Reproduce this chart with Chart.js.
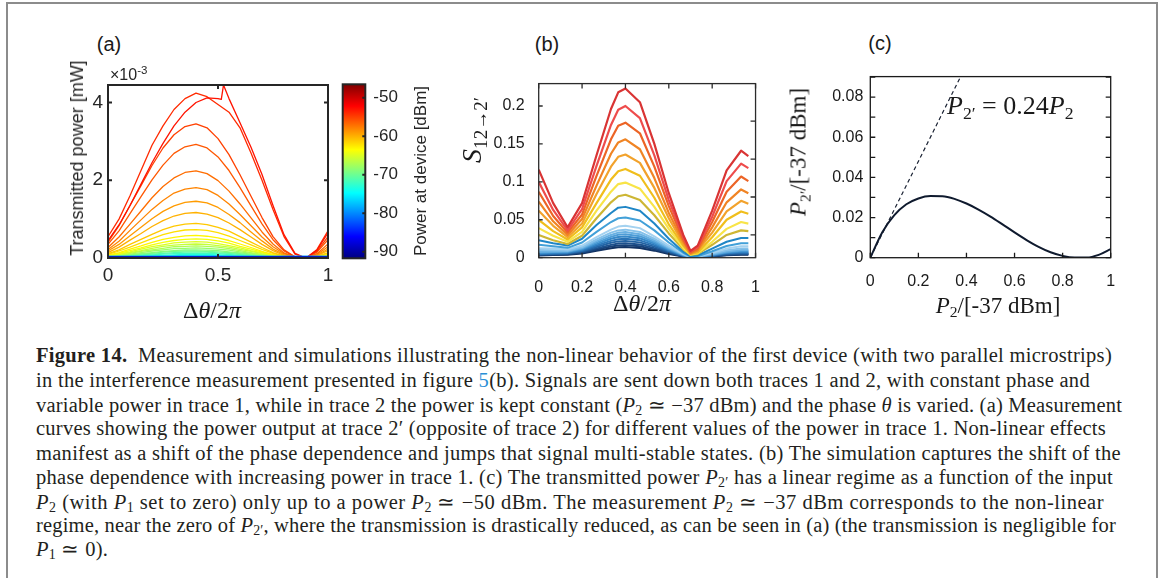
<!DOCTYPE html>
<html>
<head>
<meta charset="utf-8">
<script src="https://cdn.jsdelivr.net/npm/chart.js@4.4.1/dist/chart.umd.min.js"></script>
<style>
  html, body { margin: 0; padding: 0; background: #fff; }
  #page { position: relative; width: 1163px; height: 578px; overflow: hidden; background: #fff; }
  #frame { position: absolute; left: 6px; top: 2px; width: 1148px; height: 620px; border: 2px solid #8c8c8c; border-bottom: none; }
  .panel { position: absolute; }
  .panel canvas { display: block; }
  .lbl { position: absolute; white-space: nowrap; color: #1a1a1a; line-height: 1; transform: translate(-50%, -50%); z-index: 2; }
  .rot { transform: translate(-50%, -50%) rotate(-90deg); }
  .sans { font-family: 'Liberation Sans', Arial, sans-serif; }
  .math { font-family: 'Liberation Serif', 'Times New Roman', serif; }
  .lbl sub { font-size: 0.68em; vertical-align: -0.3em; line-height: 0; }
  .lbl sup { font-size: 0.72em; vertical-align: 0.5em; line-height: 0; }
  .lbl .big sub { font-size: 0.72em; }
  .cap { position: absolute; left: 36px; white-space: nowrap; font-family: 'Liberation Serif', 'Times New Roman', serif;
         font-size: 20.5px; color: #231f20; line-height: 1; transform: translateY(-50%); }
  .cap sub { font-size: 0.68em; vertical-align: -0.25em; line-height: 0; }
  .cap .ref { color: #2a8fd6; }
</style>
</head>
<body>
<div id="page">
  <div id="frame"></div>

  <div class="panel" style="left:40px;top:60px"><canvas id="chartA" width="310" height="250"></canvas></div>
  <div class="panel" style="left:330px;top:60px"><canvas id="chartBar" width="120" height="220"></canvas></div>
  <div class="panel" style="left:460px;top:60px"><canvas id="chartB" width="320" height="260"></canvas></div>
  <div class="panel" style="left:790px;top:60px"><canvas id="chartC" width="360" height="260"></canvas></div>

  <!-- panel (a) -->
  <div class="lbl sans" style="left:109px;top:44px;font-size:20px">(a)</div>
  <div class="lbl sans" style="left:110px;top:75px;transform:translateY(-50%);font-size:16px;color:#262626">×10<sup>-3</sup></div>
  <div class="lbl sans rot" style="left:77px;top:158px;font-size:18px;color:#262626">Transmitted power [mW]</div>
  <div class="lbl math" style="left:212px;top:310px;font-size:24px">Δ<i>θ</i>/2<i>π</i></div>
  <div class="lbl sans rot" style="left:420px;top:171px;font-size:17px;color:#262626">Power at device [dBm]</div>

  <!-- panel (b) -->
  <div class="lbl sans" style="left:547px;top:44px;font-size:20px">(b)</div>
  <div class="lbl math rot big" style="left:472px;top:130px;font-size:28px"><i>S</i><sub>12→2′</sub></div>
  <div class="lbl math" style="left:642px;top:303px;font-size:24px">Δ<i>θ</i>/2<i>π</i></div>

  <!-- panel (c) -->
  <div class="lbl sans" style="left:880px;top:43px;font-size:20px">(c)</div>
  <div class="lbl math rot" style="left:798px;top:152px;font-size:23px"><i>P</i><sub>2′</sub>/[-37 dBm]</div>
  <div class="lbl math" style="left:998px;top:305px;font-size:23px"><i>P</i><sub>2</sub>/[-37 dBm]</div>
  <div class="lbl math" style="left:947px;top:106px;transform:translateY(-50%);font-size:26px"><i>P</i><sub>2′</sub> = 0.24<i>P</i><sub>2</sub></div>

  <!-- caption -->
  <div class="cap" data-right="1112" style="top:355px"><b>Figure 14.</b>&ensp;Measurement and simulations illustrating the non-linear behavior of the first device (with two parallel microstrips)</div>
  <div class="cap" data-right="1090" style="top:380px">in the interference measurement presented in figure <span class="ref">5</span>(b). Signals are sent down both traces 1 and 2, with constant phase and</div>
  <div class="cap" data-right="1122" style="top:405px">variable power in trace 1, while in trace 2 the power is kept constant (<i>P</i><sub>2</sub> ≃ −37 dBm) and the phase <i>θ</i> is varied. (a) Measurement</div>
  <div class="cap" data-right="1106" style="top:428px">curves showing the power output at trace 2′ (opposite of trace 2) for different values of the power in trace 1. Non-linear effects</div>
  <div class="cap" data-right="1121" style="top:453px">manifest as a shift of the phase dependence and jumps that signal multi-stable states. (b) The simulation captures the shift of the</div>
  <div class="cap" data-right="1113" style="top:477px">phase dependence with increasing power in trace 1. (c) The transmitted power <i>P</i><sub>2′</sub> has a linear regime as a function of the input</div>
  <div class="cap" data-right="1104" style="top:502px"><i>P</i><sub>2</sub> (with <i>P</i><sub>1</sub> set to zero) only up to a power <i>P</i><sub>2</sub> ≃ −50 dBm. The measurement <i>P</i><sub>2</sub> ≃ −37 dBm corresponds to the non-linear</div>
  <div class="cap" data-right="1116" style="top:525px">regime, near the zero of <i>P</i><sub>2′</sub>, where the transmission is drastically reduced, as can be seen in (a) (the transmission is negligible for</div>
  <div class="cap" style="top:549px"><i>P</i><sub>1</sub> ≃ 0).</div>
</div>

<script>
// ---- (a) measured transmission at trace 2', in units of 1e-3 mW ----
const phaseGrid = [0, 0.05, 0.1, 0.15, 0.2, 0.25, 0.3, 0.35, 0.4, 0.45, 0.5, 0.55, 0.6, 0.65, 0.7, 0.75, 0.8, 0.85, 0.9, 0.95, 1];
const phaseTicksA = [0, 0.5, 1];
const powerTicksA = [0, 2, 4];

// highest drive: plateau followed by a jump (multi-stable branch)
const jumpPhase = [0, 0.05, 0.1, 0.15, 0.2, 0.25, 0.3, 0.35, 0.4, 0.45, 0.5, 0.515, 0.525, 0.55, 0.6, 0.65, 0.7, 0.75, 0.8, 0.85, 0.9, 0.95, 1];
const jumpTrace = [0.45, 0.85, 1.35, 1.90, 2.45, 2.95, 3.40, 3.75, 4.00, 4.12, 4.10, 4.08, 4.45, 4.10, 3.48, 2.85, 2.15, 1.35, 0.60, 0.12, 0.00, 0.20, 0.65];
const topTrace = [0.55, 1.00, 1.60, 2.25, 2.90, 3.40, 3.82, 4.10, 4.24, 4.15, 3.95, 3.75, 3.35, 2.70, 2.00, 1.25, 0.55, 0.10, 0.00, 0.22, 0.70];
const jumpPower = -53;
const topPower = -54;

const measuredPower = [-55, -56, -57, -58, -59, -60, -61, -62, -63, -64, -65, -66, -67, -68, -69, -70, -71, -72, -73, -74, -75];
const measuredTraces = [
  [0.41, 0.83, 1.35, 1.86, 2.38, 2.83, 3.17, 3.38, 3.45, 3.35, 3.07, 2.66, 2.14, 1.59, 1.04, 0.55, 0.21, 0.03, 0.00, 0.17, 0.55],
  [0.35, 0.70, 1.14, 1.58, 2.01, 2.39, 2.69, 2.86, 2.92, 2.83, 2.60, 2.25, 1.81, 1.34, 0.88, 0.47, 0.18, 0.03, 0.00, 0.15, 0.47],
  [0.27, 0.54, 0.87, 1.21, 1.55, 1.84, 2.06, 2.20, 2.24, 2.17, 1.99, 1.72, 1.39, 1.03, 0.67, 0.36, 0.13, 0.02, 0.00, 0.11, 0.36],
  [0.22, 0.43, 0.71, 0.98, 1.25, 1.48, 1.67, 1.77, 1.81, 1.76, 1.61, 1.39, 1.12, 0.83, 0.54, 0.29, 0.11, 0.02, 0.00, 0.09, 0.29],
  [0.18, 0.35, 0.57, 0.79, 1.01, 1.20, 1.34, 1.43, 1.46, 1.42, 1.30, 1.12, 0.91, 0.67, 0.44, 0.23, 0.09, 0.01, 0.00, 0.07, 0.23],
  [0.14, 0.28, 0.46, 0.63, 0.81, 0.96, 1.08, 1.15, 1.17, 1.13, 1.04, 0.90, 0.73, 0.54, 0.35, 0.19, 0.07, 0.01, 0.00, 0.06, 0.19],
  [0.11, 0.21, 0.35, 0.48, 0.61, 0.73, 0.82, 0.87, 0.89, 0.86, 0.79, 0.69, 0.55, 0.41, 0.27, 0.14, 0.05, 0.01, 0.00, 0.04, 0.14],
  [0.09, 0.18, 0.28, 0.39, 0.50, 0.60, 0.67, 0.72, 0.73, 0.71, 0.65, 0.56, 0.45, 0.34, 0.22, 0.12, 0.04, 0.01, 0.00, 0.04, 0.12],
  [0.07, 0.14, 0.23, 0.31, 0.40, 0.48, 0.53, 0.57, 0.58, 0.56, 0.52, 0.45, 0.36, 0.27, 0.17, 0.09, 0.03, 0.01, 0.00, 0.03, 0.09],
  [0.06, 0.12, 0.19, 0.26, 0.34, 0.40, 0.45, 0.48, 0.49, 0.48, 0.44, 0.38, 0.30, 0.23, 0.15, 0.08, 0.03, 0.00, 0.00, 0.02, 0.08],
  [0.05, 0.10, 0.16, 0.23, 0.29, 0.34, 0.39, 0.41, 0.42, 0.41, 0.37, 0.32, 0.26, 0.19, 0.13, 0.07, 0.03, 0.00, 0.00, 0.02, 0.07],
  [0.04, 0.09, 0.14, 0.19, 0.25, 0.30, 0.33, 0.35, 0.36, 0.35, 0.32, 0.28, 0.22, 0.17, 0.11, 0.06, 0.02, 0.00, 0.00, 0.02, 0.06],
  [0.04, 0.07, 0.12, 0.17, 0.21, 0.25, 0.29, 0.30, 0.31, 0.30, 0.28, 0.24, 0.19, 0.14, 0.09, 0.05, 0.02, 0.00, 0.00, 0.02, 0.05],
  [0.03, 0.06, 0.10, 0.14, 0.18, 0.21, 0.24, 0.25, 0.26, 0.25, 0.23, 0.20, 0.16, 0.12, 0.08, 0.04, 0.02, 0.00, 0.00, 0.01, 0.04],
  [0.03, 0.05, 0.08, 0.11, 0.14, 0.17, 0.19, 0.21, 0.21, 0.20, 0.19, 0.16, 0.13, 0.10, 0.06, 0.03, 0.01, 0.00, 0.00, 0.01, 0.03],
  [0.02, 0.04, 0.07, 0.10, 0.12, 0.15, 0.17, 0.18, 0.18, 0.17, 0.16, 0.14, 0.11, 0.08, 0.05, 0.03, 0.01, 0.00, 0.00, 0.01, 0.03],
  [0.02, 0.04, 0.06, 0.08, 0.10, 0.12, 0.14, 0.15, 0.15, 0.15, 0.13, 0.12, 0.09, 0.07, 0.05, 0.02, 0.01, 0.00, 0.00, 0.01, 0.02],
  [0.01, 0.03, 0.05, 0.06, 0.08, 0.10, 0.11, 0.12, 0.12, 0.12, 0.11, 0.09, 0.07, 0.06, 0.04, 0.02, 0.01, 0.00, 0.00, 0.01, 0.02],
  [0.01, 0.02, 0.04, 0.05, 0.06, 0.07, 0.08, 0.09, 0.09, 0.09, 0.08, 0.07, 0.06, 0.04, 0.03, 0.01, 0.01, 0.00, 0.00, 0.00, 0.01],
  [0.01, 0.02, 0.03, 0.04, 0.05, 0.06, 0.06, 0.07, 0.07, 0.07, 0.06, 0.05, 0.04, 0.03, 0.02, 0.01, 0.00, 0.00, 0.00, 0.00, 0.01],
  [0.01, 0.01, 0.02, 0.03, 0.03, 0.04, 0.05, 0.05, 0.05, 0.05, 0.04, 0.04, 0.03, 0.02, 0.02, 0.01, 0.00, 0.00, 0.00, 0.00, 0.01]
];

// weakest drive levels sit on the noise floor
const floorPower = [-91, -85, -79];
const floorTraces = [
  [0.02, 0.02, 0.02, 0.02, 0.02, 0.02, 0.02, 0.02, 0.02, 0.02, 0.02, 0.02, 0.02, 0.02, 0.02, 0.02, 0.02, 0.02, 0.02, 0.02, 0.02],
  [0.03, 0.03, 0.03, 0.03, 0.03, 0.03, 0.03, 0.03, 0.03, 0.03, 0.03, 0.03, 0.03, 0.03, 0.03, 0.03, 0.03, 0.03, 0.03, 0.03, 0.03],
  [0.045, 0.045, 0.045, 0.045, 0.045, 0.045, 0.045, 0.045, 0.045, 0.045, 0.045, 0.045, 0.045, 0.045, 0.045, 0.045, 0.045, 0.045, 0.045, 0.045, 0.045]
];

// colour bar range [dBm]
const barRange = [-91.7, -46.5];
const barTicks = [-90, -80, -70, -60, -50];

// ---- (b) simulated S_{12->2'} ----
const simPhase = [0, 0.0667, 0.1333, 0.2, 0.2667, 0.3333, 0.3667, 0.4, 0.4667, 0.5333, 0.6, 0.6667, 0.7, 0.7333, 0.8, 0.8667, 0.9333, 0.9667];
const phaseTicksB = [0, 0.2, 0.4, 0.6, 0.8, 1];
const sTicks = [0, 0.05, 0.1, 0.15, 0.2];
const sRightTicks = [0.03, 0.08, 0.13, 0.18];
const simTraces = [
  [0.116, 0.072, 0.040, 0.072, 0.135, 0.196, 0.218, 0.223, 0.205, 0.150, 0.085, 0.030, 0.009, 0.016, 0.062, 0.115, 0.141, 0.134],
  [0.100, 0.063, 0.036, 0.064, 0.121, 0.175, 0.195, 0.200, 0.184, 0.135, 0.076, 0.027, 0.008, 0.014, 0.054, 0.101, 0.124, 0.118],
  [0.087, 0.055, 0.033, 0.057, 0.108, 0.156, 0.174, 0.178, 0.164, 0.120, 0.068, 0.024, 0.007, 0.012, 0.047, 0.087, 0.107, 0.101],
  [0.074, 0.048, 0.030, 0.051, 0.095, 0.137, 0.152, 0.156, 0.143, 0.105, 0.059, 0.021, 0.006, 0.010, 0.040, 0.073, 0.090, 0.085],
  [0.062, 0.042, 0.027, 0.045, 0.084, 0.120, 0.133, 0.136, 0.125, 0.092, 0.052, 0.018, 0.005, 0.009, 0.033, 0.061, 0.075, 0.071],
  [0.050, 0.035, 0.024, 0.040, 0.072, 0.103, 0.114, 0.117, 0.108, 0.079, 0.044, 0.016, 0.005, 0.007, 0.027, 0.050, 0.061, 0.058],
  [0.039, 0.029, 0.021, 0.034, 0.062, 0.087, 0.097, 0.099, 0.091, 0.067, 0.038, 0.013, 0.004, 0.006, 0.021, 0.038, 0.047, 0.045],
  [0.030, 0.023, 0.018, 0.029, 0.052, 0.073, 0.081, 0.083, 0.076, 0.056, 0.032, 0.011, 0.004, 0.005, 0.017, 0.030, 0.036, 0.035],
  [0.023, 0.019, 0.016, 0.025, 0.043, 0.059, 0.066, 0.067, 0.062, 0.045, 0.025, 0.008, 0.002, 0.003, 0.012, 0.021, 0.026, 0.026],
  [0.017, 0.015, 0.013, 0.020, 0.034, 0.047, 0.052, 0.053, 0.049, 0.036, 0.020, 0.0065, 0.0015, 0.002, 0.0085, 0.0155, 0.019, 0.019],
  [0.0125, 0.012, 0.011, 0.016, 0.027, 0.037, 0.041, 0.042, 0.039, 0.028, 0.016, 0.005, 0.001, 0.0017, 0.0066, 0.012, 0.015, 0.015],
  [0.010, 0.0097, 0.0095, 0.014, 0.024, 0.033, 0.036, 0.037, 0.034, 0.025, 0.014, 0.0045, 0.001, 0.0016, 0.0054, 0.0098, 0.012, 0.012],
  [0.008, 0.0082, 0.0085, 0.0128, 0.0218, 0.030, 0.033, 0.034, 0.031, 0.0227, 0.0126, 0.0041, 0.0008, 0.0013, 0.0045, 0.0082, 0.010, 0.010],
  [0.007, 0.0074, 0.0078, 0.0117, 0.0199, 0.0275, 0.0303, 0.031, 0.0284, 0.0207, 0.0114, 0.0036, 0.0006, 0.001, 0.004, 0.0073, 0.009, 0.009],
  [0.006, 0.0065, 0.007, 0.0106, 0.0179, 0.0249, 0.0274, 0.028, 0.0257, 0.0187, 0.0103, 0.0032, 0.0005, 0.0009, 0.0035, 0.0065, 0.008, 0.008],
  [0.005, 0.0057, 0.0063, 0.0095, 0.016, 0.0222, 0.0244, 0.025, 0.0229, 0.0166, 0.0091, 0.0028, 0.0004, 0.0007, 0.003, 0.0057, 0.007, 0.007],
  [0.0045, 0.0051, 0.0057, 0.0085, 0.0142, 0.0196, 0.0215, 0.022, 0.0202, 0.0146, 0.008, 0.0024, 0.0003, 0.0006, 0.0026, 0.0049, 0.006, 0.006],
  [0.004, 0.0045, 0.005, 0.0074, 0.0123, 0.0169, 0.0186, 0.019, 0.0174, 0.0126, 0.0069, 0.002, 0.0002, 0.0004, 0.0021, 0.004, 0.005, 0.005],
  [0.0035, 0.004, 0.0044, 0.0065, 0.0107, 0.0147, 0.0161, 0.0165, 0.0151, 0.011, 0.006, 0.0018, 0.0002, 0.0004, 0.0019, 0.0036, 0.0045, 0.0045],
  [0.003, 0.0034, 0.0038, 0.0055, 0.0091, 0.0125, 0.0137, 0.014, 0.0128, 0.0093, 0.005, 0.0015, 0.0001, 0.0003, 0.0017, 0.0032, 0.004, 0.004]
];
const simColors = ['#d93434', '#ee4c4c', '#ec6426', '#f08424', '#f2a22c', '#f0be1c', '#f8e448', '#cdb634',
  '#1f86c6', '#42a0d8', '#a4d2f0', '#86c2ea', '#68b0e2', '#4c9cd6', '#3688c8', '#2a74b6', '#2262a2', '#1c508c', '#174076', '#123262'];

// ---- (c) output vs input power, both in units of -37 dBm ----
const inputGrid = [0, 0.05, 0.1, 0.15, 0.2, 0.25, 0.3, 0.35, 0.4, 0.45, 0.5, 0.55, 0.6, 0.65, 0.7, 0.75, 0.8, 0.85, 0.9, 0.95, 1];
const outputPower = [0, 0.0127, 0.0212, 0.0266, 0.0295, 0.0307, 0.0306, 0.0293, 0.0270, 0.0240, 0.0205, 0.0166, 0.0126, 0.0088, 0.0054, 0.0027, 0.0009, 0.0001, 0.0001, 0.0014, 0.0043];
// linear regime P2' = 0.24 P2
const fitInput = [0, 0.375];
const fitOutput = [0, 0.09];
const inputTicks = [0, 0.2, 0.4, 0.6, 0.8, 1];
const outputTicks = [0, 0.01, 0.02, 0.03, 0.04, 0.05, 0.06, 0.07, 0.08, 0.09];
const outputLabels = [0, 0.02, 0.04, 0.06, 0.08];

// ---- helpers ----
Chart.defaults.font.family = "'Liberation Sans', Arial, sans-serif";
Chart.defaults.animation = false;

const jetStops = [[0, '#000080'], [0.125, '#0000ff'], [0.375, '#00ffff'], [0.625, '#ffff00'], [0.875, '#ff0000'], [1, '#800000']];
function jet(power) {
  const t = (power - barRange[0]) / (barRange[1] - barRange[0]);
  const ch = c => Math.round(255 * Math.max(0, Math.min(1, 1.5 - Math.abs(4 * t - c))));
  return `rgb(${ch(3)},${ch(2)},${ch(1)})`;
}

const toPoints = (xs, ys) => xs.map((x, i) => ({ x, y: ys[i] }));
const fixWidth = w => s => { s.width = w; };
const fixHeight = h => s => { s.height = h; };
const useTicks = values => s => { s.ticks = values.map(v => ({ value: v })); };
const fmt = v => String(Number(Number(v).toFixed(3)));
const hidden = { display: false };

// box around the plot area plus inward tick marks on any side
const boxTicks = {
  id: 'boxTicks',
  afterDatasetsDraw(chart, args, opts) {
    const { ctx, chartArea: a } = chart;
    ctx.save();
    ctx.strokeStyle = opts.color;
    ctx.lineWidth = opts.width;
    ctx.beginPath();
    (opts.marks || []).forEach(m => {
      const scale = chart.scales[m.axis];
      m.values.forEach(v => {
        const p = scale.getPixelForValue(v);
        m.sides.forEach(side => {
          if (side === 'bottom') { ctx.moveTo(p, a.bottom); ctx.lineTo(p, a.bottom - m.length); }
          if (side === 'top') { ctx.moveTo(p, a.top); ctx.lineTo(p, a.top + m.length); }
          if (side === 'left') { ctx.moveTo(a.left, p); ctx.lineTo(a.left + m.length, p); }
          if (side === 'right') { ctx.moveTo(a.right, p); ctx.lineTo(a.right - m.length, p); }
        });
      });
    });
    ctx.stroke();
    ctx.strokeRect(a.left, a.top, a.right - a.left, a.bottom - a.top);
    ctx.restore();
  }
};

function axis(opts) {
  return Object.assign({
    type: 'linear',
    grid: { display: false, drawTicks: false },
    border: hidden
  }, opts);
}

function tickStyle(size, padding, color, callback) {
  return { font: { size }, color, padding, maxRotation: 0, autoSkip: false, callback: callback || fmt };
}

const quiet = { legend: hidden, tooltip: { enabled: false } };

// ---- (a) measured curves ----
const measuredLine = (xs, ys, power, width) => ({
  data: toPoints(xs, ys), borderColor: jet(power), borderWidth: width, fill: false
});
const measuredSets = [
  ...floorTraces.map((ys, i) => measuredLine(phaseGrid, ys, floorPower[i], 1.4)),
  measuredLine(jumpPhase, jumpTrace, jumpPower, 1.3),
  measuredLine(phaseGrid, topTrace, topPower, 1.3),
  ...measuredTraces.map((ys, i) => measuredLine(phaseGrid, ys, measuredPower[i], 1.3))
];

new Chart(document.getElementById('chartA'), {
  type: 'line',
  data: { datasets: measuredSets },
  options: {
    responsive: false,
    layout: { padding: { left: 0, right: 22, top: 25, bottom: 0 } },
    elements: { point: { radius: 0 }, line: { tension: 0, borderJoinStyle: 'round' } },
    plugins: Object.assign({}, quiet, {
      boxTicks: {
        color: '#262626', width: 2,
        marks: [
          { axis: 'x', values: phaseTicksA, sides: ['bottom', 'top'], length: 4 },
          { axis: 'y', values: powerTicksA, sides: ['left', 'right'], length: 4 }
        ]
      }
    }),
    scales: {
      x: axis({ min: 0, max: 1, afterFit: fixHeight(52), afterBuildTicks: useTicks(phaseTicksA), ticks: tickStyle(19, 6, '#262626') }),
      y: axis({ min: 0, max: 4.45, afterFit: fixWidth(68), afterBuildTicks: useTicks(powerTicksA), ticks: tickStyle(19, 5, '#262626') })
    }
  },
  plugins: [boxTicks]
});

// ---- colour bar ----
new Chart(document.getElementById('chartBar'), {
  type: 'bar',
  data: {
    labels: [''],
    datasets: [{
      data: [barRange],
      borderWidth: 0,
      barPercentage: 1,
      categoryPercentage: 1,
      backgroundColor: c => {
        const a = c.chart.chartArea;
        if (!a) return '#000';
        const g = c.chart.ctx.createLinearGradient(0, a.bottom, 0, a.top);
        jetStops.forEach(([t, col]) => g.addColorStop(t, col));
        return g;
      }
    }]
  },
  options: {
    responsive: false,
    layout: { padding: { left: 12.7, right: 0, top: 24.3, bottom: 21.7 } },
    plugins: Object.assign({}, quiet, {
      boxTicks: { color: '#262626', width: 2, marks: [{ axis: 'y', values: barTicks, sides: ['right'], length: 3 }] }
    }),
    scales: {
      x: { display: false },
      y: axis({ position: 'right', min: barRange[0], max: barRange[1], afterFit: fixWidth(84.7),
                afterBuildTicks: useTicks(barTicks), ticks: tickStyle(17, 8, '#262626') })
    }
  },
  plugins: [boxTicks]
});

// ---- (b) simulation ----
new Chart(document.getElementById('chartB'), {
  type: 'line',
  data: {
    datasets: simTraces.map((ys, i) => ({
      data: toPoints(simPhase, ys), borderColor: simColors[i], borderWidth: i < 8 ? 2.2 : 2, fill: false
    }))
  },
  options: {
    responsive: false,
    layout: { padding: { left: 0, right: 12.3, top: 21.7, bottom: 0 } },
    elements: { point: { radius: 0 }, line: { tension: 0, borderJoinStyle: 'round' } },
    plugins: Object.assign({}, quiet, {
      boxTicks: {
        color: '#2b2b2b', width: 1.3,
        marks: [
          { axis: 'x', values: phaseTicksB, sides: ['bottom', 'top'], length: 5 },
          { axis: 'y', values: sTicks, sides: ['left'], length: 4 },
          { axis: 'y', values: sRightTicks, sides: ['right'], length: 5 }
        ]
      }
    }),
    scales: {
      x: axis({ min: 0, max: 1, afterFit: fixHeight(62.3), afterBuildTicks: useTicks(phaseTicksB), ticks: tickStyle(16, 20, '#1a1a1a') }),
      y: axis({ min: 0, max: 0.2295, afterFit: fixWidth(78.7), afterBuildTicks: useTicks(sTicks), ticks: tickStyle(16, 14, '#1a1a1a') })
    }
  },
  plugins: [boxTicks]
});

// ---- (c) power transfer ----
new Chart(document.getElementById('chartC'), {
  type: 'line',
  data: {
    datasets: [
      { data: toPoints(inputGrid, outputPower), borderColor: '#0f1a2e', borderWidth: 2, fill: false, cubicInterpolationMode: 'monotone' },
      { data: toPoints(fitInput, fitOutput), borderColor: '#1a2233', borderWidth: 1.2, borderDash: [4, 3], fill: false }
    ]
  },
  options: {
    responsive: false,
    layout: { padding: { left: 0, right: 39.3, top: 15, bottom: 0 } },
    elements: { point: { radius: 0 } },
    plugins: Object.assign({}, quiet, {
      boxTicks: {
        color: '#1a1a1a', width: 1.3,
        marks: [
          { axis: 'x', values: inputTicks, sides: ['bottom'], length: 5 },
          { axis: 'y', values: outputTicks, sides: ['left', 'right'], length: 5 }
        ]
      }
    }),
    scales: {
      x: axis({ min: 0, max: 1, afterFit: fixHeight(62.3), afterBuildTicks: useTicks(inputTicks), ticks: tickStyle(16, 14, '#1a1a1a') }),
      y: axis({ min: 0, max: 0.0902, afterFit: fixWidth(80.3), afterBuildTicks: useTicks(outputTicks),
                ticks: tickStyle(16, 7, '#1a1a1a', v => outputLabels.includes(v) ? fmt(v) : '') })
    }
  },
  plugins: [boxTicks]
});

// ---- caption: spread each line to its ragged-right edge ----
function fitCaption() {
  const lines = [...document.querySelectorAll('.cap')];
  const spacing = [];
  lines.forEach(el => {
    const right = Number(el.dataset.right);
    if (!right) return;
    el.style.letterSpacing = '0px';
    const w = el.getBoundingClientRect().width;
    const ls = (right - el.offsetLeft - w) / el.textContent.length;
    el.style.letterSpacing = ls.toFixed(3) + 'px';
    spacing.push(ls);
  });
  const avg = spacing.reduce((s, v) => s + v, 0) / spacing.length;
  lines.filter(el => !el.dataset.right).forEach(el => { el.style.letterSpacing = avg.toFixed(3) + 'px'; });
}
fitCaption();
if (document.fonts) document.fonts.ready.then(fitCaption);
</script>
</body>
</html>
